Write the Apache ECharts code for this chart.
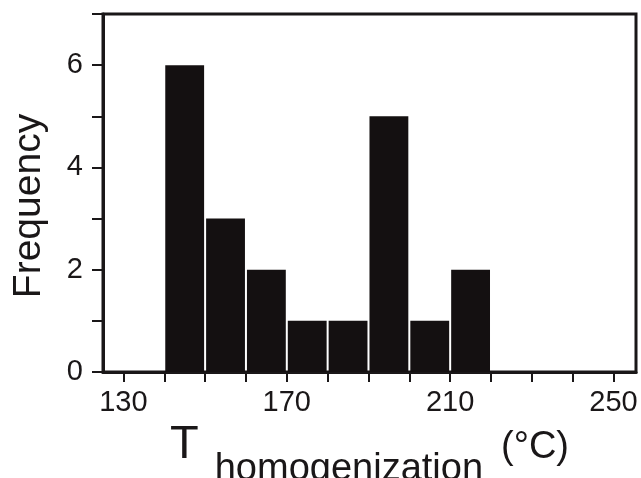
<!DOCTYPE html>
<html>
<head>
<meta charset="utf-8">
<script src="https://cdn.jsdelivr.net/npm/echarts@6/dist/echarts.min.js"></script>
<style>
  html, body { margin: 0; padding: 0; background: #fff; }
  #chart { width: 641px; height: 478px; }
</style>
</head>
<body>
<div id="chart"></div>
<script>
// Histograma de temperaturas de homogeneización
const binLow = [140, 150, 160, 170, 180, 190, 200, 210];
const binHigh = [150, 160, 170, 180, 190, 200, 210, 220];
const frequency = [6, 3, 2, 1, 1, 5, 1, 2];

const xTicks = [130, 140, 150, 160, 170, 180, 190, 200, 210, 220, 230, 240, 250];
const xLabels = [130, 170, 210, 250];
const yTicks = [0, 1, 2, 3, 4, 5, 6, 7];
const yLabels = [0, 2, 4, 6];

const tinta = '#1a1718';
const fuente = 'Liberation Sans';

const datos = binLow.map((lo, i) => [lo, binHigh[i], frequency[i]]);

const grafico = echarts.init(document.getElementById('chart'));
grafico.setOption({
    animation: false,
    grid: {
        left: 103, right: 5, top: 14, bottom: 106,
        outerBoundsMode: 'none',
        show: true, borderColor: tinta, borderWidth: 3
    },
    xAxis: {
        type: 'value',
        min: 125,
        max: 255.5,
        splitLine: { show: false },
        axisLine: { lineStyle: { color: tinta, width: 3 } },
        axisTick: { customValues: xTicks, length: 10, lineStyle: { color: tinta, width: 2 } },
        axisLabel: {
            customValues: xLabels, margin: 16,
            fontFamily: fuente, fontSize: 29, color: tinta
        },
        name: '{t|T}{s|homogenization}{u|(°C)}',
        nameLocation: 'middle',
        nameGap: 44,
        nameTextStyle: {
            rich: {
                t: { fontFamily: fuente, fontSize: 47, color: tinta, verticalAlign: 'bottom', padding: [0, 16, 20, 0] },
                s: { fontFamily: fuente, fontSize: 38, color: tinta, verticalAlign: 'bottom', padding: [0, 18, 0, 0] },
                u: { fontFamily: fuente, fontSize: 38, color: tinta, verticalAlign: 'bottom', padding: [0, 0, 22, 0] }
            }
        }
    },
    yAxis: {
        type: 'value',
        min: 0,
        max: 7,
        splitLine: { show: false },
        axisLine: { lineStyle: { color: tinta, width: 3 } },
        axisTick: { customValues: yTicks, length: 11, lineStyle: { color: tinta, width: 2 } },
        axisLabel: {
            customValues: yLabels, margin: 20,
            fontFamily: fuente, fontSize: 29, color: tinta
        },
        name: 'Frequency',
        nameLocation: 'middle',
        nameRotate: 90,
        nameGap: 54,
        nameTextStyle: { fontFamily: fuente, fontSize: 39, color: tinta, padding: [0, 26, 0, 0] }
    },
    series: [{
        type: 'custom',
        encode: { x: [0, 1], y: 2 },
        data: datos,
        renderItem: (params, api) => {
            const arriba = api.coord([api.value(0), api.value(2)]);
            const abajo = api.coord([api.value(1), 0]);
            return {
                type: 'rect',
                shape: {
                    x: arriba[0] + 1,
                    y: arriba[1],
                    width: abajo[0] - arriba[0] - 2,
                    height: abajo[1] - arriba[1]
                },
                style: { fill: '#141011' }
            };
        }
    }]
});
</script>
</body>
</html>
